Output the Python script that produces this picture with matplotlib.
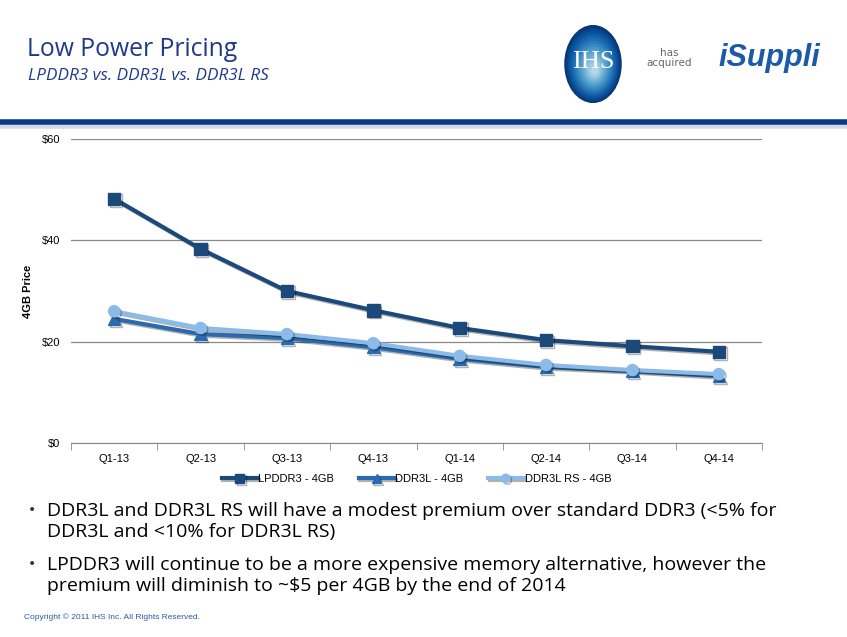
import matplotlib.pyplot as plt
import matplotlib.patheffects as pe
from matplotlib.patches import Ellipse
import numpy as np

quarters = ["Q1-13", "Q2-13", "Q3-13", "Q4-13", "Q1-14", "Q2-14", "Q3-14", "Q4-14"]
lpddr3 = [48.2, 38.3, 30.0, 26.2, 22.7, 20.3, 19.1, 18.0]
ddr3l = [24.5, 21.5, 20.7, 18.9, 16.6, 15.0, 14.2, 13.2]
ddr3l_rs = [26.0, 22.7, 21.5, 19.7, 17.2, 15.4, 14.4, 13.6]
y_ticks = [0, 20, 40, 60]

bullets = [
    "DDR3L and DDR3L RS will have a modest premium over standard DDR3 (<5% for\nDDR3L and <10% for DDR3L RS)",
    "LPDDR3 will continue to be a more expensive memory alternative, however the\npremium will diminish to ~$5 per 4GB by the end of 2014",
]

W, H = 847, 637
fig = plt.figure(figsize=(W / 100, H / 100), dpi=100)
fig.patch.set_facecolor("white")

def fx(px):
    return px / W

def fy(py):
    return 1 - py / H

# header
fig.text(fx(27), fy(50), "Low Power Pricing", fontsize=17.8, color="#1f3a8a",
         family="Open Sans", va="center")
fig.text(fx(28), fy(76), "LPDDR3 vs. DDR3L vs. DDR3L RS", fontsize=12.3, color="#1f3a8a",
         family="Open Sans", style="italic", va="center")

# header rule with a faint shadow
fig.add_artist(plt.Line2D([0, 1], [fy(126), fy(126)], color="#d6dae2", lw=4))
fig.add_artist(plt.Line2D([0, 1], [fy(122), fy(122)], color="#0a3a8c", lw=4))

# logo
logo = fig.add_axes([fx(560), fy(104), fx(66), fy(0) - fy(80)])
logo.set_xlim(-1, 1)
logo.set_ylim(-1.2, 1.2)
logo.axis("off")
for r, c in zip(np.linspace(1, 0.1, 14), plt.cm.Blues(np.linspace(0.97, 0.3, 14))):
    logo.add_patch(Ellipse((0.05 * (1 - r), -0.2 * (1 - r)), 1.7 * r, 2.3 * r, color=c))
logo.text(0, 0.05, "IHS", color="white", fontsize=19, family="Liberation Serif",
          ha="center", va="center")
fig.text(fx(669), fy(58), "has\nacquired", fontsize=7.5, color="#666666",
         ha="center", va="center", linespacing=0.95)
fig.text(fx(718), fy(58), "iSuppli", fontsize=22, color="#1a5aa8",
         style="italic", weight="bold", va="center", family="Liberation Sans")

# chart
ax = fig.add_axes([fx(71), fy(443), fx(762) - fx(71), fy(139) - fy(443)])
x = np.arange(len(quarters))
shadow = [pe.SimpleLineShadow(offset=(1.2, -1.2), alpha=0.3), pe.Normal()]

ax.plot(x, lpddr3, color="#1b4a7a", lw=3, marker="s", ms=9,
        label="LPDDR3 - 4GB", path_effects=shadow, zorder=3)
ax.plot(x, ddr3l, color="#2a6aae", lw=3, marker="^", ms=9,
        label="DDR3L - 4GB", path_effects=shadow, zorder=4)
ax.plot(x, ddr3l_rs, color="#8cbbe9", lw=3, marker="o", ms=8,
        label="DDR3L RS - 4GB", path_effects=shadow, zorder=5)

ax.set_xlim(-0.5, len(quarters) - 0.5)
ax.set_ylim(0, 60)
ax.set_yticks(y_ticks)
ax.set_yticklabels(["$" + str(v) for v in y_ticks], fontsize=8, family="Liberation Sans")
ax.yaxis.grid(True, color="#888888", lw=0.9)
ax.set_axisbelow(True)
ax.tick_params(axis="y", length=0, pad=8)

ax.set_xticks(x)
ax.set_xticklabels(quarters, fontsize=8, family="Liberation Sans")
ax.set_xticks(np.arange(-0.5, len(quarters)), minor=True)
ax.tick_params(axis="x", which="major", length=0, pad=8)
ax.tick_params(axis="x", which="minor", length=5, color="#888888")

for s in ["left", "right", "top"]:
    ax.spines[s].set_visible(False)
ax.spines["bottom"].set_color("#888888")

ax.set_ylabel("4GB Price", fontsize=8, weight="bold", family="Liberation Sans", labelpad=6)

ax.legend(loc="upper center", bbox_to_anchor=(0.5, -0.07), ncol=3, frameon=False,
          prop={"family": "Liberation Sans", "size": 8}, handlelength=3.2,
          handletextpad=0.1, columnspacing=2.2, markerscale=0.75)

# bullet points
for b, yy in zip(bullets, [511, 565]):
    fig.text(fx(28), fy(yy - 1), "\u2022", fontsize=10, color="#333333", va="center")
    fig.text(fx(47), fy(yy - 9), b, fontsize=14, family="Open Sans", va="top",
             color="black", linespacing=1.2)

fig.text(fx(24), fy(617), "Copyright \u00a9 2011 IHS Inc. All Rights Reserved.",
         fontsize=6, color="#2a5aa8", va="center", family="Liberation Sans")

fig.savefig("out.png", dpi=100)
